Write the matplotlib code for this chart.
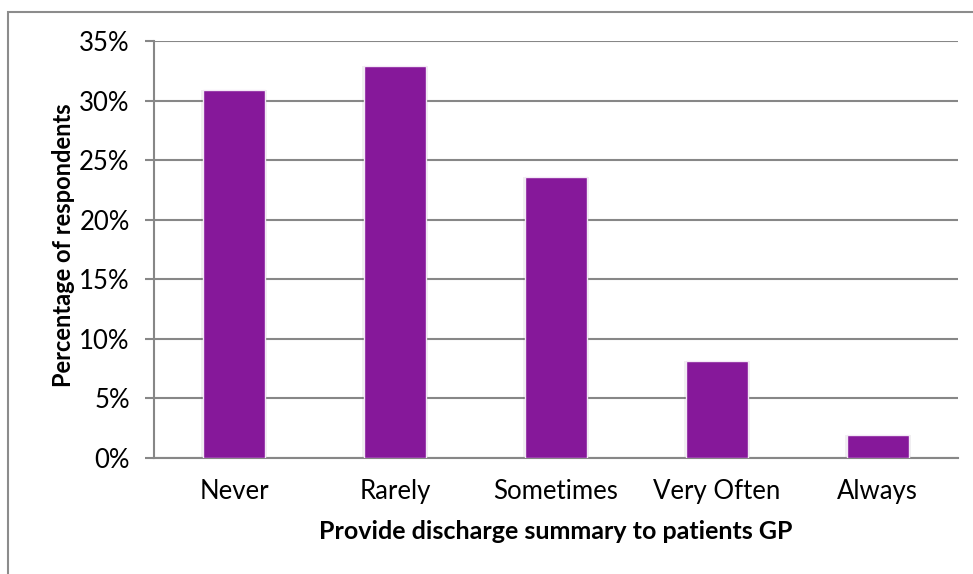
import matplotlib.pyplot as plt
from matplotlib.patches import Rectangle
from matplotlib.ticker import PercentFormatter

# Survey responses: how often a discharge summary is sent to the patient's GP
categories = ['Never', 'Rarely', 'Sometimes', 'Very Often', 'Always']
percent = [30.9, 32.9, 23.6, 8.1, 1.9]

plt.rcParams['font.family'] = ['Lato', 'DejaVu Sans']

fig = plt.figure(figsize=(9.73, 5.74), dpi=100)
ax = fig.add_axes([0.1583, 0.2021, 0.8263, 0.7265])

# outer chart frame (runs off the right and bottom edge)
fig.patches.append(Rectangle((8 / 973, -0.05), 1.2, 1 - 12 / 574 + 0.05,
                             transform=fig.transFigure, fill=False,
                             edgecolor='#8c8c8c', linewidth=1.5))

x = range(len(categories))
# soft shadow behind each bar
ax.bar(x, percent, width=0.41, color='#000000', alpha=0.06, zorder=2)
ax.bar(x, percent, width=0.386, color='#86189a', edgecolor='#f4e8f6',
       linewidth=1.0, zorder=3)

ax.set_xlim(-0.5, 4.5)
ax.set_ylim(0, 35)
ax.set_yticks(range(0, 36, 5))
ax.yaxis.set_major_formatter(PercentFormatter(decimals=0))
ax.set_xticks(list(x))
ax.set_xticklabels(categories)

ax.grid(axis='y', color='#878787', linewidth=1.5, zorder=1)
for s in ['top', 'right']:
    ax.spines[s].set_visible(False)
for s in ['left', 'bottom']:
    ax.spines[s].set_color('#878787')
    ax.spines[s].set_linewidth(1.5)

ax.tick_params(axis='y', length=6.5, width=1.5, color='#878787', labelsize=18.5, pad=11)
ax.tick_params(axis='x', length=0, labelsize=18.5, pad=15)

ax.set_xlabel('Provide discharge summary to patients GP', fontsize=18,
              fontweight='bold')
ax.set_ylabel('Percentage of respondents', fontsize=17, fontweight='bold')
ax.xaxis.set_label_coords(0.5, -0.148)
ax.yaxis.set_label_coords(-0.098, 0.51)

fig.savefig('out.png', dpi=100)
